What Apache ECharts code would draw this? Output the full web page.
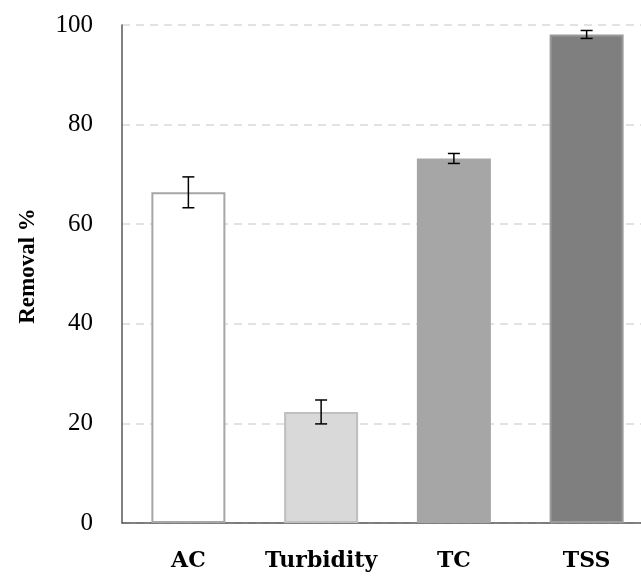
<!DOCTYPE html>
<html>
<head>
<meta charset="utf-8">
<script src="https://cdn.jsdelivr.net/npm/echarts@6/dist/echarts.min.js"></script>
<style>
html,body{margin:0;padding:0;background:#fff;}
#chart{width:641px;height:579px;}
</style>
</head>
<body>
<div id="chart"></div>
<script>
const categories = ['AC', 'Turbidity', 'TC', 'TSS'];
const removal = [66.4, 22.3, 73.2, 98.1];
const errors = [3.1, 2.4, 1.0, 0.8];
const yTicks = [0, 20, 40, 60, 80, 100];

const fills = ['#ffffff', '#d9d9d9', '#a6a6a6', '#7f7f7f'];
const borders = ['#a6a6a6', '#bfbfbf', '#a6a6a6', '#9a9a9a'];

const chart = echarts.init(document.getElementById('chart'));
const serif = '"Liberation Serif", "Times New Roman", serif';

chart.setOption({
  animation: false,
  backgroundColor: '#fff',
  grid: { left: 122, top: 25, width: 531, height: 498, containLabel: false, outerBoundsMode: 'none' },
  xAxis: {
    type: 'category',
    data: categories,
    axisLine: { show: true, lineStyle: { color: '#595959', width: 1.5 } },
    axisTick: { show: false },
    axisLabel: {
      interval: 0,
      margin: 27,
      fontFamily: '"DejaVu Serif", serif',
      fontWeight: 'bold',
      fontSize: 22,
      color: '#000'
    }
  },
  yAxis: {
    type: 'value',
    min: yTicks[0],
    max: yTicks[yTicks.length - 1],
    interval: 20,
    name: 'Removal %',
    nameLocation: 'middle',
    nameGap: 82,
    nameRotate: 90,
    nameTextStyle: {
      fontFamily: serif,
      fontWeight: 'bold',
      fontSize: 23,
      color: '#000',
      padding: [0, 0, 0, 16]
    },
    axisLine: { show: true, lineStyle: { color: '#595959', width: 1.5 } },
    axisTick: { show: false },
    axisLabel: {
      margin: 29,
      fontFamily: serif,
      fontSize: 25,
      color: '#000'
    },
    splitLine: {
      show: true,
      lineStyle: { color: '#d9d9d9', width: 1.5, type: [8, 6] }
    }
  },
  series: [
    {
      type: 'bar',
      barWidth: 74,
      data: removal.map((v, i) => ({
        value: v,
        itemStyle: { color: fills[i], borderColor: borders[i], borderWidth: 2 }
      })),
      z: 2
    },
    {
      type: 'custom',
      z: 5,
      data: removal.map((v, i) => [i, v - errors[i], v + errors[i]]),
      renderItem: function (params, api) {
        const x = api.value(0);
        const lo = api.coord([x, api.value(1)]);
        const hi = api.coord([x, api.value(2)]);
        const half = 6;
        const style = { stroke: '#000', lineWidth: 1.5 };
        return {
          type: 'group',
          children: [
            { type: 'line', shape: { x1: lo[0], y1: lo[1], x2: hi[0], y2: hi[1] }, style: style },
            { type: 'line', shape: { x1: lo[0] - half, y1: lo[1], x2: lo[0] + half, y2: lo[1] }, style: style },
            { type: 'line', shape: { x1: hi[0] - half, y1: hi[1], x2: hi[0] + half, y2: hi[1] }, style: style }
          ]
        };
      }
    }
  ]
});
</script>
</body>
</html>
